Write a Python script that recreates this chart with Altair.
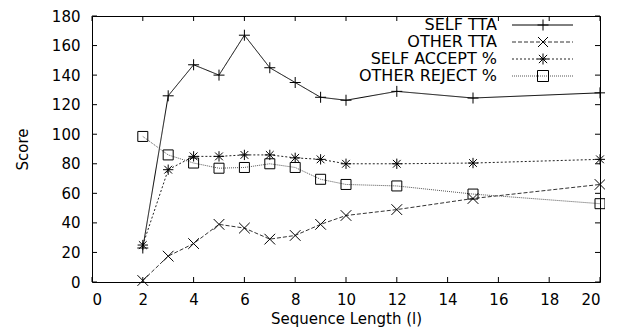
import altair as alt
import pandas as pd

# ---- data ----
seq_len = [2, 3, 4, 5, 6, 7, 8, 9, 10, 12, 15, 20]
self_tta = [23, 126, 147, 140, 167, 145, 135, 125, 123, 129, 124.5, 128]
other_tta = [1, 17.5, 26, 39, 36.5, 29, 31.5, 39, 45, 49, 56.5, 66]
self_accept = [25, 76, 85, 85, 86, 86, 84, 83, 80, 80, 80.5, 83]
other_reject = [98.5, 86, 80.5, 77, 77.5, 80, 77.5, 69.5, 66, 65, 59.5, 53]
series_names = ["SELF TTA", "OTHER TTA", "SELF ACCEPT %", "OTHER REJECT %"]
x_ticks = list(range(0, 21, 2))
y_ticks = list(range(0, 181, 20))

# ---- styles ----
W, H = 508, 266
FONT = "DejaVu Sans"
PLUS = "M-1,0L1,0M0,-1L0,1"
CROSS = "M-1,-1L1,1M-1,1L1,-1"
STAR = "M-1,0L1,0M0,-1L0,1M-0.75,-0.75L0.75,0.75M-0.75,0.75L0.75,-0.75"
shapes = [PLUS, CROSS, STAR, "square"]
sizes = [121, 100, 121, 121]
dashes = [[1, 0], [4, 2], [2, 2], [1, 1]]
line_colors = ["#000000", "#333333", "#222222", "#555555"]
leg_y = [9, 26, 43, 60]

rows = []
for name, vals in zip(series_names, [self_tta, other_tta, self_accept, other_reject]):
    for xv, yv in zip(seq_len, vals):
        rows.append({"series": name, "x": xv, "value": yv})
df = pd.DataFrame(rows)
one = pd.DataFrame({"k": [0]})

xscale = alt.Scale(domain=[0, 20], nice=False, zero=False)
yscale = alt.Scale(domain=[0, 180], nice=False)

xaxis = alt.Axis(values=x_ticks, title="Sequence Length (l)", ticks=False, domain=False,
                 grid=False, labelPadding=10, titleX=W / 2, titleY=36, titleBaseline="middle",
                 labelFont=FONT, labelFontSize=15, labelColor="black",
                 titleFont=FONT, titleFontSize=15, titleFontWeight="normal", titleColor="black")
yaxis = alt.Axis(values=y_ticks, title="Score", ticks=False, domain=False, grid=False,
                 labelPadding=12, titleX=-70, titleY=H / 2, titleBaseline="middle",
                 labelFont=FONT, labelFontSize=15, labelColor="black",
                 titleFont=FONT, titleFontSize=15, titleFontWeight="normal", titleColor="black")

base = alt.Chart(df)
lines = base.mark_line(strokeWidth=1).encode(
    x=alt.X("x:Q", scale=xscale, axis=xaxis),
    y=alt.Y("value:Q", scale=yscale, axis=yaxis),
    detail="series:N",
    color=alt.Color("series:N", scale=alt.Scale(domain=series_names, range=line_colors), legend=None),
    strokeDash=alt.StrokeDash("series:N", scale=alt.Scale(domain=series_names, range=dashes), legend=None),
)
points = base.mark_point(filled=False, strokeWidth=1, color="black", opacity=1).encode(
    x=alt.X("x:Q", scale=xscale, axis=xaxis),
    y=alt.Y("value:Q", scale=yscale, axis=yaxis),
    shape=alt.Shape("series:N", scale=alt.Scale(domain=series_names, range=shapes), legend=None),
    size=alt.Size("series:O", scale=alt.Scale(domain=series_names, range=sizes), legend=None),
)

xt = alt.Chart(pd.DataFrame({"x": x_ticks}))
yt = alt.Chart(pd.DataFrame({"value": y_ticks}))
tick_layers = [
    xt.mark_rule(color="black", strokeWidth=1).encode(
        x=alt.X("x:Q", scale=xscale, axis=xaxis), y=alt.value(H), y2=alt.value(H - 5)),
    xt.mark_rule(color="black", strokeWidth=1).encode(
        x=alt.X("x:Q", scale=xscale, axis=xaxis), y=alt.value(0), y2=alt.value(5)),
    yt.mark_rule(color="black", strokeWidth=1).encode(
        y=alt.Y("value:Q", scale=yscale, axis=yaxis), x=alt.value(0), x2=alt.value(5)),
    yt.mark_rule(color="black", strokeWidth=1).encode(
        y=alt.Y("value:Q", scale=yscale, axis=yaxis), x=alt.value(W - 5), x2=alt.value(W)),
]

legend_layers = []
for i, name in enumerate(series_names):
    yp = leg_y[i]
    legend_layers.append(
        alt.Chart(one).mark_text(text=name, align="right", baseline="middle", font=FONT,
                                 fontSize=16, color="black").encode(
            x=alt.value(405), y=alt.value(yp)))
    legend_layers.append(
        alt.Chart(one).mark_rule(strokeWidth=1, color=line_colors[i], strokeDash=dashes[i]).encode(
            x=alt.value(420), x2=alt.value(481), y=alt.value(yp)))
    legend_layers.append(
        alt.Chart(one).mark_point(shape=shapes[i], size=sizes[i], filled=False, strokeWidth=1,
                                  color="black", opacity=1).encode(
            x=alt.value(451), y=alt.value(yp)))

chart = alt.layer(lines, points, *tick_layers, *legend_layers).properties(
    width=W, height=H,
    padding={"left": 84, "top": 8, "right": 5, "bottom": 45},
    autosize=alt.AutoSizeParams(type="none"),
    background="white",
).configure_view(stroke="black", strokeWidth=1)

chart.save("out.html", embed_options={"renderer": "svg", "actions": False})
